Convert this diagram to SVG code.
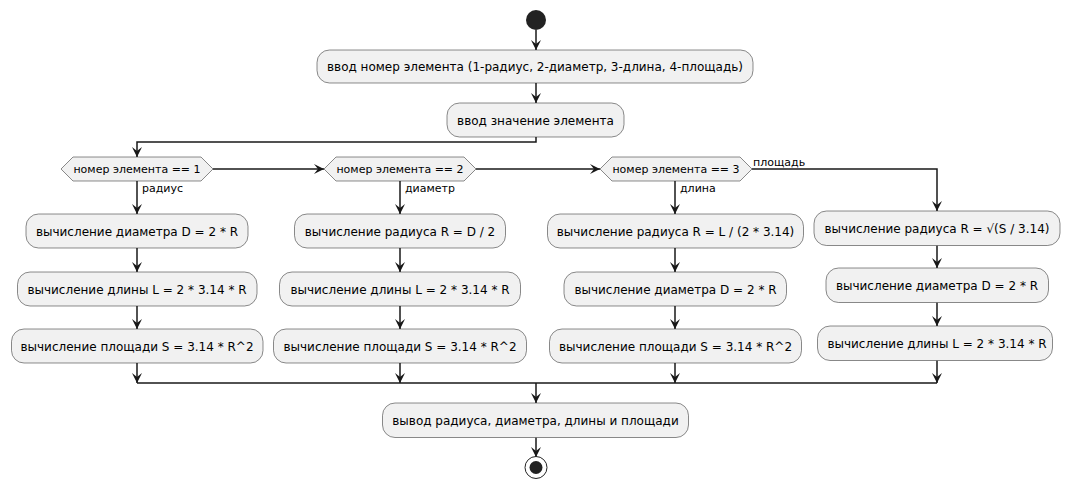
<svg xmlns="http://www.w3.org/2000/svg" width="1069" height="489" viewBox="0 0 1069 489">
<style>
.box{fill:#F1F1F1;stroke:#181818;stroke-width:0.5}
.t{font-family:"DejaVu Sans",sans-serif;font-size:12px;fill:#000;text-anchor:middle}
.d{font-family:"DejaVu Sans",sans-serif;font-size:11px;fill:#000;text-anchor:middle}
.l{font-family:"DejaVu Sans",sans-serif;font-size:11px;fill:#000}
.ln{fill:none;stroke:#181818;stroke-width:1.5}
</style>
<defs>
<marker id="ah" viewBox="0 0 10 10" refX="10" refY="5" markerWidth="11" markerHeight="10" markerUnits="userSpaceOnUse" orient="auto">
<path d="M0,0 L10,5 L0,10 L4,5 Z" fill="#181818"/>
</marker>
</defs>
<rect width="1069" height="489" fill="#FFFFFF"/>
<g id="connectors">
<path class="ln" d="M536,30 V50" marker-end="url(#ah)"/>
<path class="ln" d="M536,83 V103" marker-end="url(#ah)"/>
<path class="ln" d="M536,137 V142 H137 V157" marker-end="url(#ah)"/>
<path class="ln" d="M213,169 H324" marker-end="url(#ah)"/>
<path class="ln" d="M476,169 H600" marker-end="url(#ah)"/>
<path class="ln" d="M752,169 H937 V211" marker-end="url(#ah)"/>
<path class="ln" d="M137,181 V214" marker-end="url(#ah)"/>
<path class="ln" d="M137,248 V272" marker-end="url(#ah)"/>
<path class="ln" d="M137,306 V329" marker-end="url(#ah)"/>
<path class="ln" d="M137,363 V383" marker-end="url(#ah)"/>
<path class="ln" d="M400,181 V214" marker-end="url(#ah)"/>
<path class="ln" d="M400,248 V272" marker-end="url(#ah)"/>
<path class="ln" d="M400,306 V329" marker-end="url(#ah)"/>
<path class="ln" d="M400,363 V383" marker-end="url(#ah)"/>
<path class="ln" d="M675,181 V214" marker-end="url(#ah)"/>
<path class="ln" d="M675,248 V272" marker-end="url(#ah)"/>
<path class="ln" d="M675,306 V329" marker-end="url(#ah)"/>
<path class="ln" d="M675,363 V383" marker-end="url(#ah)"/>
<path class="ln" d="M937,245.5 V268" marker-end="url(#ah)"/>
<path class="ln" d="M937,302.5 V326" marker-end="url(#ah)"/>
<path class="ln" d="M937,360.5 V383" marker-end="url(#ah)"/>
<path class="ln" d="M137,383 H937"/>
<path class="ln" d="M536,383 V403" marker-end="url(#ah)"/>
<path class="ln" d="M536,437.5 V457" marker-end="url(#ah)"/>
<text class="l" x="142" y="192">радиус</text>
<text class="l" x="405" y="192">диаметр</text>
<text class="l" x="680" y="192">длина</text>
<text class="l" x="753" y="166">площадь</text>
</g>
<g id="start"><circle cx="536" cy="20" r="10" fill="#222222"/></g>
<g id="n1"><rect class="box" x="317" y="50" width="436" height="33" rx="12.5"/><text class="t" x="535" y="71">ввод номер элемента (1-радиус, 2-диаметр, 3-длина, 4-площадь)</text></g>
<g id="n2"><rect class="box" x="447" y="103" width="177" height="34" rx="12.5"/><text class="t" x="535.5" y="124.5">ввод значение элемента</text></g>
<g id="dec1"><polygon class="box" points="61,169 73,157 201,157 213,169 201,181 73,181"/><text class="d" x="137" y="173">номер элемента == 1</text></g>
<g id="dec2"><polygon class="box" points="324,169 336,157 464,157 476,169 464,181 336,181"/><text class="d" x="400" y="173">номер элемента == 2</text></g>
<g id="dec3"><polygon class="box" points="600,169 612,157 740,157 752,169 740,181 612,181"/><text class="d" x="676" y="173">номер элемента == 3</text></g>
<g id="c1a"><rect class="box" x="26" y="214" width="222" height="34" rx="12.5"/><text class="t" x="137" y="235.5">вычисление диаметра D = 2 * R</text></g>
<g id="c1b"><rect class="box" x="17.5" y="272" width="239.5" height="34" rx="12.5"/><text class="t" x="137" y="293.5">вычисление длины L = 2 * 3.14 * R</text></g>
<g id="c1c"><rect class="box" x="11.5" y="329" width="251.5" height="34" rx="12.5"/><text class="t" x="137" y="350.5">вычисление площади S = 3.14 * R^2</text></g>
<g id="c2a"><rect class="box" x="294.5" y="214" width="211" height="34" rx="12.5"/><text class="t" x="400" y="235.5">вычисление радиуса R = D / 2</text></g>
<g id="c2b"><rect class="box" x="279.5" y="272" width="241" height="34" rx="12.5"/><text class="t" x="400" y="293.5">вычисление длины L = 2 * 3.14 * R</text></g>
<g id="c2c"><rect class="box" x="273.5" y="329" width="253" height="34" rx="12.5"/><text class="t" x="400" y="350.5">вычисление площади S = 3.14 * R^2</text></g>
<g id="c3a"><rect class="box" x="547.5" y="214" width="256" height="34" rx="12.5"/><text class="t" x="675.5" y="235.5">вычисление радиуса R = L / (2 * 3.14)</text></g>
<g id="c3b"><rect class="box" x="564" y="272" width="222.5" height="34" rx="12.5"/><text class="t" x="675.5" y="293.5">вычисление диаметра D = 2 * R</text></g>
<g id="c3c"><rect class="box" x="549.5" y="329" width="252" height="34" rx="12.5"/><text class="t" x="675.5" y="350.5">вычисление площади S = 3.14 * R^2</text></g>
<g id="c4a"><rect class="box" x="814" y="211" width="246" height="34.5" rx="12.5"/><text class="t" x="937" y="232.5">вычисление радиуса R = √(S / 3.14)</text></g>
<g id="c4b"><rect class="box" x="826" y="268" width="222.5" height="34.5" rx="12.5"/><text class="t" x="937" y="289.5">вычисление диаметра D = 2 * R</text></g>
<g id="c4c"><rect class="box" x="817.5" y="326" width="235" height="34.5" rx="12.5"/><text class="t" x="937" y="347.5">вычисление длины L = 2 * 3.14 * R</text></g>
<g id="out"><rect class="box" x="382.5" y="403" width="306" height="34.5" rx="12.5"/><text class="t" x="535.5" y="424.5">вывод радиуса, диаметра, длины и площади</text></g>
<g id="end"><circle cx="536" cy="467.5" r="11" fill="none" stroke="#222222" stroke-width="1"/><circle cx="536" cy="467.5" r="6.5" fill="#222222"/></g>
</svg>
